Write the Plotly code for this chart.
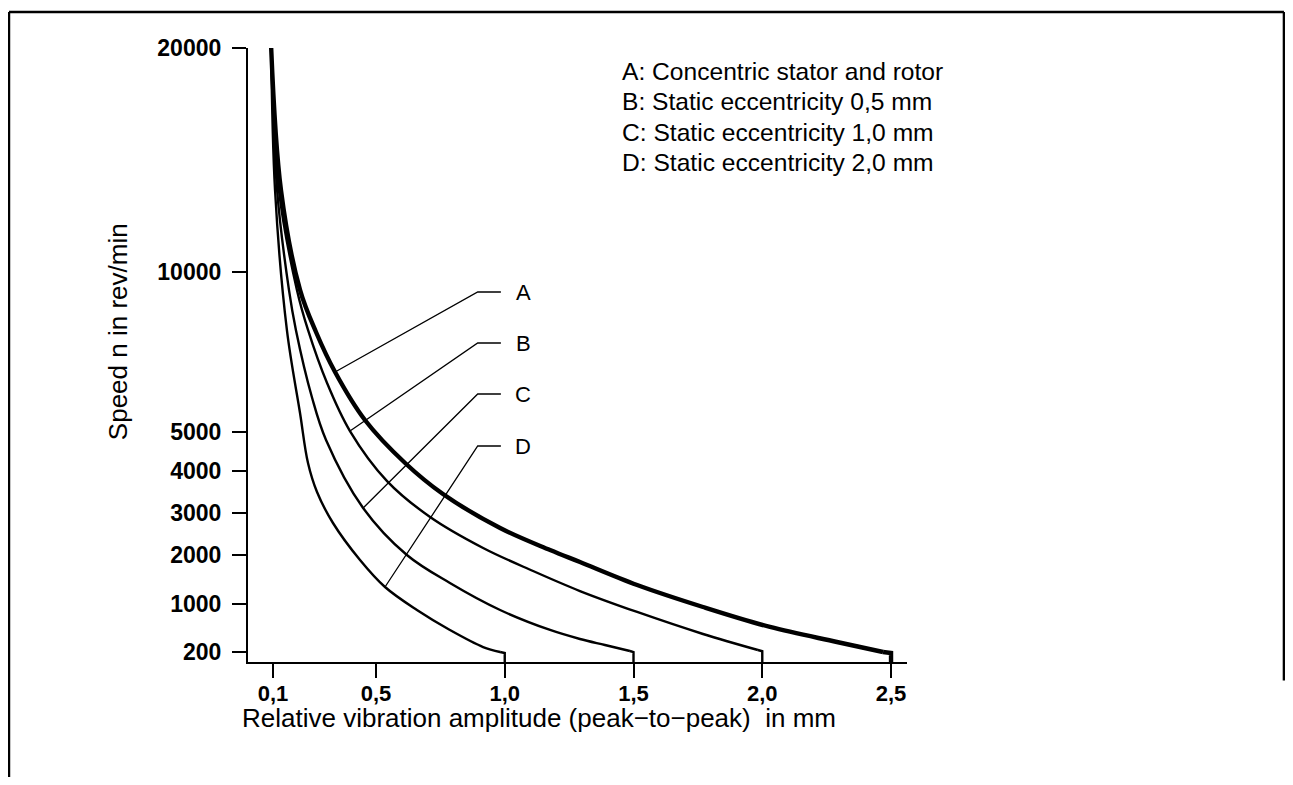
import numpy as np
import plotly.graph_objects as go

# ---- non-uniform speed scale of the drawing (speed value -> axis position units)
SCALE_N = [0, 200, 1000, 2000, 3000, 4000, 5000, 10000, 20000]
SCALE_U = [0, 10, 58, 107, 149, 191, 230, 390, 614]

Y_TICKS = [20000, 10000, 5000, 4000, 3000, 2000, 1000, 200]
Y_TICK_TEXT = ["20000", "10000", "5000", "4000", "3000", "2000", "1000", "200"]
X_TICKS = [0.1, 0.5, 1.0, 1.5, 2.0, 2.5]
X_TICK_TEXT = ["0,1", "0,5", "1,0", "1,5", "2,0", "2,5"]

# ---- curves: relative vibration amplitude (mm) vs speed (rev/min)
A_amp = [0.093, 0.131, 0.205, 0.267, 0.341, 0.457, 0.613, 0.76, 0.982, 1.176, 1.292, 1.514, 1.77, 2.03, 2.29, 2.469]
A_speed = [20000, 13660, 9440, 8125, 6875, 5375, 4205, 3452, 2643, 2119, 1857, 1388, 950, 617, 367, 200]
B_amp = [0.093, 0.123, 0.193, 0.236, 0.31, 0.399, 0.543, 0.71, 0.916, 1.11, 1.292, 1.514, 1.77, 1.983]
B_speed = [20000, 13660, 9440, 8190, 6530, 5030, 3760, 2905, 2167, 1673, 1265, 867, 500, 233]
C_amp = [0.093, 0.116, 0.162, 0.189, 0.251, 0.306, 0.45, 0.62, 0.787, 0.982, 1.176, 1.292, 1.389, 1.486]
C_speed = [20000, 13660, 9440, 8190, 6094, 4795, 3119, 2000, 1429, 900, 567, 417, 317, 217]
D_amp = [0.093, 0.108, 0.154, 0.205, 0.236, 0.271, 0.333, 0.438, 0.535, 0.659, 0.787, 0.916, 0.982]
D_speed = [20000, 13660, 8190, 5594, 4205, 3500, 2762, 1898, 1347, 900, 567, 283, 200]

CURVE_NAMES = ["A", "B", "C", "D"]
END_AMP = [2.5, 2.0, 1.5, 1.0]
LEGEND_LINES = ["A: Concentric stator and rotor",
                "B: Static eccentricity 0,5 mm",
                "C: Static eccentricity 1,0 mm",
                "D: Static eccentricity 2,0 mm"]
X_TITLE = "Relative vibration amplitude (peak\u2212to\u2212peak)  in mm"
Y_TITLE = "Speed n in rev/min"


def u(n):
    return np.interp(n, SCALE_N, SCALE_U)


curves = [(A_amp, A_speed), (B_amp, B_speed), (C_amp, C_speed), (D_amp, D_speed)]
widths = [4.4, 2.4, 2.4, 2.4]
anchor_idx = [4, 5, 6, 8]
label_u = [370, 319, 268, 216]

fig = go.Figure()
for (amp, spd), end, w, name in zip(curves, END_AMP, widths, CURVE_NAMES):
    fig.add_trace(go.Scatter(x=amp, y=u(spd), mode="lines", name=name,
                             line=dict(color="black", width=w, shape="spline", smoothing=1.0),
                             showlegend=False, hoverinfo="skip"))
    fig.add_trace(go.Scatter(x=[amp[-1], end, end], y=[u(spd[-1]), u(spd[-1]) * 0.9, u(0)],
                             mode="lines", line=dict(color="black", width=w),
                             showlegend=False, hoverinfo="skip"))

# leader lines with labels
for (amp, spd), idx, lu, name in zip(curves, anchor_idx, label_u, CURVE_NAMES):
    fig.add_trace(go.Scatter(x=[amp[idx], 0.895, 0.985], y=[u(spd[idx]), lu, lu],
                             mode="lines", line=dict(color="black", width=1.3),
                             showlegend=False, hoverinfo="skip"))
    fig.add_annotation(x=1.071, y=lu, xref="x", yref="y", text=name, showarrow=False,
                       xanchor="center", yanchor="middle",
                       font=dict(family="Liberation Sans", size=22, color="black"))

# text block
for i, t in enumerate(LEGEND_LINES):
    fig.add_annotation(x=0.5645, y=0.9625 - i * 0.0497, xref="paper", yref="paper",
                       text=t, showarrow=False, xanchor="left", yanchor="middle",
                       font=dict(family="Liberation Sans", size=24.6, color="black"))

# axis titles
fig.add_annotation(x=-0.197, y=0.5375, xref="paper", yref="paper", text=Y_TITLE,
                   textangle=-90, showarrow=False, xanchor="center", yanchor="middle",
                   font=dict(family="Liberation Sans", size=26, color="black"))
fig.add_annotation(x=0.4416, y=-0.092, xref="paper", yref="paper", text=X_TITLE,
                   showarrow=False, xanchor="center", yanchor="middle",
                   font=dict(family="Liberation Sans", size=26, color="black"))

# outer frame
frame = dict(type="line", xref="paper", yref="paper", line=dict(color="black", width=2.5))
fig.add_shape(**frame, x0=-0.3627, x1=1.572, y0=1.0586, y1=1.0586)
fig.add_shape(**frame, x0=-0.3627, x1=-0.3627, y0=1.0586, y1=-0.25)
fig.add_shape(**frame, x0=1.572, x1=1.572, y0=1.0586, y1=-0.03)

tickfont = dict(family="Liberation Sans", size=22, color="black", weight="bold")
fig.update_xaxes(range=[0.003, 2.562], tickvals=X_TICKS, ticktext=X_TICK_TEXT,
                 showline=True, linecolor="black", linewidth=2.2, showgrid=False,
                 zeroline=False, ticks="outside", ticklen=14, tickwidth=2, tickcolor="black",
                 tickfont=tickfont, ticklabelstandoff=-4)
fig.update_yaxes(range=[0, 614], tickvals=list(u(Y_TICKS)), ticktext=Y_TICK_TEXT,
                 showline=True, linecolor="black", linewidth=2.2, showgrid=False,
                 zeroline=False, ticks="outside", ticklen=14, tickwidth=2, tickcolor="black",
                 tickfont=dict(tickfont, size=23), ticklabelstandoff=6)
# page body adds an 8 px margin, so the figure is sized to fit the 1293x785 window
fig.update_layout(width=1277, height=769, margin=dict(l=240, r=378, t=40, b=115),
                  plot_bgcolor="white", paper_bgcolor="white", showlegend=False)
fig.write_html("out.html")
